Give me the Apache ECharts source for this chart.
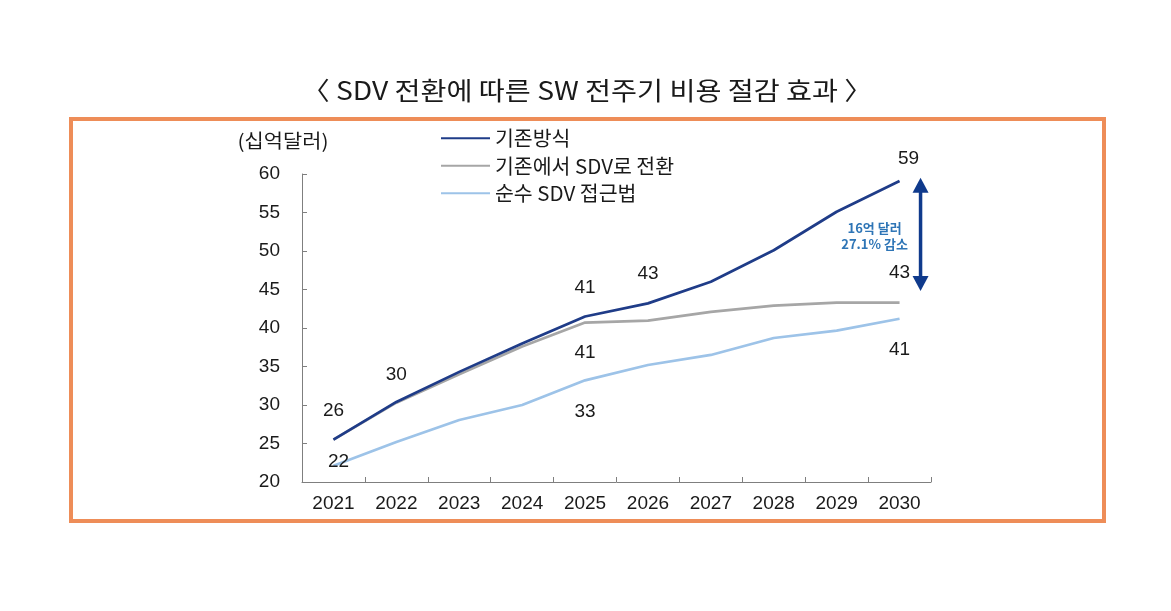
<!DOCTYPE html>
<html>
<head>
<meta charset="utf-8">
<script src="https://cdn.jsdelivr.net/npm/echarts@6/dist/echarts.min.js"></script>
<style>
  html, body { margin: 0; padding: 0; background: #ffffff; }
  #chart { width: 1171px; height: 611px; }
</style>
</head>
<body>
<div id="chart"></div>
<script>
// ---------- data ----------
const categories = ['2021', '2022', '2023', '2024', '2025', '2026', '2027', '2028', '2029', '2030'];
const seriesNames = ['기존방식', '기존에서 SDV로 전환', '순수 SDV 접근법'];
const baseline = [25.5, 30.4, 34.3, 38.0, 41.5, 43.2, 46.0, 50.1, 55.1, 59.1];
const sdvTransition = [25.5, 30.3, 34.0, 37.6, 40.7, 40.95, 42.1, 42.9, 43.3, 43.3];
const pureSdv = [22.1, 25.2, 28.05, 30.0, 33.2, 35.2, 36.5, 38.7, 39.65, 41.2];
// value labels shown in the chart (null = none)
const baselineLabels = ['26', '30', null, null, '41', '43', null, null, null, '59'];
const sdvTransitionLabels = [null, null, null, null, '41', null, null, null, null, '43'];
const pureSdvLabels = ['22', null, null, null, '33', null, null, null, null, '41'];
// gap arrow (top / bottom value) at the last category
const gapArrow = [59.5, 44.8];
const gapNote = '16억 달러\n27.1% 감소';
const yTicks = { min: 20, max: 60, step: 5 };
const titleText = '〈 SDV 전환에 따른 SW 전주기 비용 절감 효과 〉';
const unitText = '(십억달러)';

// ---------- styles ----------
const colors = ['#1F3C88', '#A6A6A6', '#9DC3E8'];
const labelOffsets = [
  { 0: [0, -29], 1: [0, -27], 4: [0, -29], 5: [0, -30], 9: [9, -22] },
  { 4: [0, 30], 9: [0, -30] },
  { 0: [5, -4], 4: [0, 31], 9: [0, 31] }
];
const textColor = '#1a1a1a';
const latin = '"Liberation Sans", Arial, sans-serif';
const kr = '"Noto Sans CJK KR", "Noto Sans", sans-serif';

function labelSeries(values, texts, offsets, idx) {
  const data = [];
  texts.forEach((t, i) => {
    if (t == null) return;
    data.push({
      value: [i, values[i]],
      label: {
        show: true,
        formatter: t,
        position: 'inside',
        offset: offsets[i] || [0, 0],
        color: textColor,
        opacity: 1,
        fontSize: 19,
        fontFamily: latin
      }
    });
  });
  return {
    type: 'scatter',
    name: 'labels' + idx,
    data: data,
    symbolSize: 1,
    itemStyle: { color: 'rgba(255,255,255,0)', opacity: 1 },
    silent: true,
    z: 5
  };
}

const lineData = [baseline, sdvTransition, pureSdv];
const labelTexts = [baselineLabels, sdvTransitionLabels, pureSdvLabels];

const series = [];
lineData.forEach((vals, k) => {
  series.push({
    type: 'line',
    name: seriesNames[k],
    data: vals,
    symbol: 'none',
    lineStyle: { color: colors[k], width: 2.7 },
    itemStyle: { color: colors[k] },
    z: 5 - k
  });
});
lineData.forEach((vals, k) => {
  series.push(labelSeries(vals, labelTexts[k], labelOffsets[k], k));
});

// arrow drawn through the axes' scales
series.push({
  type: 'custom',
  name: 'gap',
  silent: true,
  clip: false,
  data: [[categories.length - 1, gapArrow[0], gapArrow[1]]],
  encode: { x: 0, y: [1, 2] },
  renderItem: function (params, api) {
    const top = api.coord([api.value(0), api.value(1)]);
    const bot = api.coord([api.value(0), api.value(2)]);
    const x = top[0] + 21;
    const headH = 15, headW = 8;
    const c = '#0F3A8C';
    return {
      type: 'group',
      children: [
        { type: 'line', shape: { x1: x, y1: top[1] + headH - 1, x2: x, y2: bot[1] - headH + 1 },
          style: { stroke: c, lineWidth: 3.5 } },
        { type: 'polygon', shape: { points: [[x, top[1]], [x - headW, top[1] + headH], [x + headW, top[1] + headH]] },
          style: { fill: c } },
        { type: 'polygon', shape: { points: [[x, bot[1]], [x - headW, bot[1] - headH], [x + headW, bot[1] - headH]] },
          style: { fill: c } },
        { type: 'text', x: x - 46, y: (top[1] + bot[1]) / 2 + 1.5,
          style: { text: gapNote, align: 'center', verticalAlign: 'middle', fill: '#2E75B6',
                   font: 'bold 13px ' + kr, lineHeight: 16 } }
      ]
    };
  },
  z: 6
});

const chart = echarts.init(document.getElementById('chart'), null, { renderer: 'canvas' });
chart.setOption({
  backgroundColor: '#ffffff',
  animation: false,
  grid: { left: 302, top: 174, width: 629, height: 308 },
  legend: {
    data: seriesNames,
    orient: 'vertical',
    left: 435,
    top: 123,
    itemWidth: 49,
    itemHeight: 20,
    itemGap: 7,
    itemStyle: { opacity: 0 },
    textStyle: { color: textColor, fontSize: 20.5, fontFamily: kr, lineHeight: 20 }
  },
  xAxis: {
    type: 'category',
    data: categories,
    boundaryGap: true,
    axisLine: { lineStyle: { color: '#7f7f7f', width: 1 } },
    axisTick: { show: true, inside: true, length: 5, lineStyle: { color: '#7f7f7f' } },
    axisLabel: { color: textColor, fontSize: 19, fontFamily: latin, margin: 12 },
    splitLine: { show: false }
  },
  yAxis: {
    type: 'value',
    min: yTicks.min,
    max: yTicks.max,
    interval: yTicks.step,
    axisLine: { show: true, lineStyle: { color: '#7f7f7f', width: 1 } },
    axisTick: { show: true, inside: true, length: 5, lineStyle: { color: '#7f7f7f' } },
    axisLabel: { color: textColor, fontSize: 19, fontFamily: latin, margin: 22 },
    splitLine: { show: false }
  },
  graphic: [
    { type: 'rect', shape: { x: 71, y: 119, width: 1033, height: 402 },
      style: { fill: 'none', stroke: '#EE8D58', lineWidth: 4 }, silent: true },
    { type: 'text', x: 587, y: 90, scaleX: 1.13,
      style: { text: titleText, align: 'center', verticalAlign: 'middle', fill: textColor,
               font: '25px ' + kr } },
    { type: 'text', x: 283, y: 141, scaleX: 1.1,
      style: { text: unitText, align: 'center', verticalAlign: 'middle', fill: textColor,
               font: '19px ' + kr } }
  ],
  series: series
});
</script>
</body>
</html>
